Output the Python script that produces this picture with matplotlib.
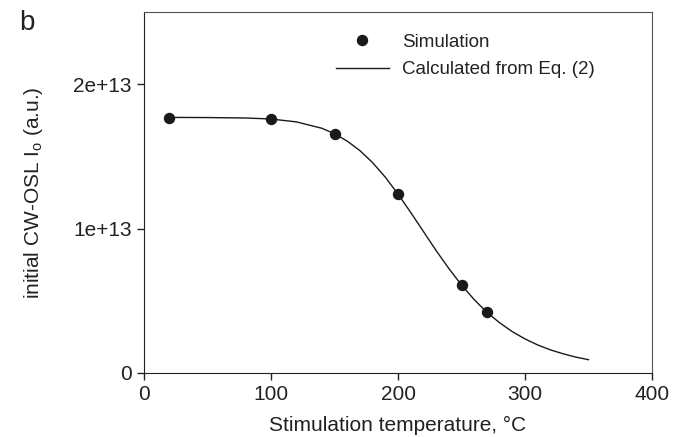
import numpy as np
import matplotlib
matplotlib.use('Agg')
import matplotlib.pyplot as plt

plt.rcParams['font.family'] = ['Liberation Sans', 'DejaVu Sans']
plt.rcParams['mathtext.default'] = 'regular'

# simulated points (temperature in C, initial CW-OSL)
sim_T = [20, 100, 150, 200, 250, 270]
sim_I = [1.769e13, 1.757e13, 1.656e13, 1.239e13, 0.61e13, 0.42e13]

# curve, Eq. (2)
eq_T = [20, 50, 80, 100, 120, 140, 150, 160, 170, 180, 190, 200, 210, 220, 230,
        240, 250, 260, 270, 280, 290, 300, 310, 320, 330, 340, 350]
eq_I = [1.770e13, 1.769e13, 1.766e13, 1.759e13, 1.739e13, 1.695e13, 1.657e13,
        1.606e13, 1.540e13, 1.457e13, 1.356e13, 1.239e13, 1.112e13, 0.980e13,
        0.848e13, 0.724e13, 0.609e13, 0.508e13, 0.420e13, 0.348e13, 0.286e13,
        0.236e13, 0.194e13, 0.160e13, 0.133e13, 0.110e13, 0.092e13]

x_ticks = [0, 100, 200, 300, 400]
y_ticks = [0, 1e13, 2e13]
y_labels = ['0', '1e+13', '2e+13']

fig = plt.figure(figsize=(6.94, 4.37), dpi=100)
ax = fig.add_axes([0.2075, 0.1465, 0.732, 0.826])

ax.plot(sim_T, sim_I, 'o', color='#1a1a1a', markersize=7.2, label='Simulation', zorder=3)
ax.plot(eq_T, eq_I, '-', color='#1a1a1a', lw=1.0, label='Calculated from Eq. (2)')

ax.set_xlim(0, 400)
ax.set_ylim(0, 2.5e13)
ax.set_xticks(x_ticks)
ax.set_yticks(y_ticks)
ax.set_yticklabels(y_labels)
ax.tick_params(direction='out', length=5, width=1, labelsize=15, colors='#222222', pad=4)

for s in ['left', 'bottom']:
    ax.spines[s].set_color('#222222')
for s in ['top', 'right']:
    ax.spines[s].set_color('#555555')

ax.set_xlabel('Stimulation temperature, \u00b0C', fontsize=15, color='#222222', labelpad=8)
ax.set_ylabel('initial CW-OSL I$_{o}$ (a.u.)', fontsize=15, color='#222222', labelpad=20)

leg = ax.legend(loc='upper left', bbox_to_anchor=(0.378, 0.94), frameon=False,
                fontsize=13.5, handlelength=2.8, handletextpad=0.7, labelspacing=0.56,
                borderpad=0, borderaxespad=0, numpoints=1)
for t in leg.get_texts():
    t.set_color('#222222')

fig.text(0.028, 0.978, 'b', fontsize=20, va='top', ha='left', color='#222222')

fig.savefig('out.png', dpi=100)
